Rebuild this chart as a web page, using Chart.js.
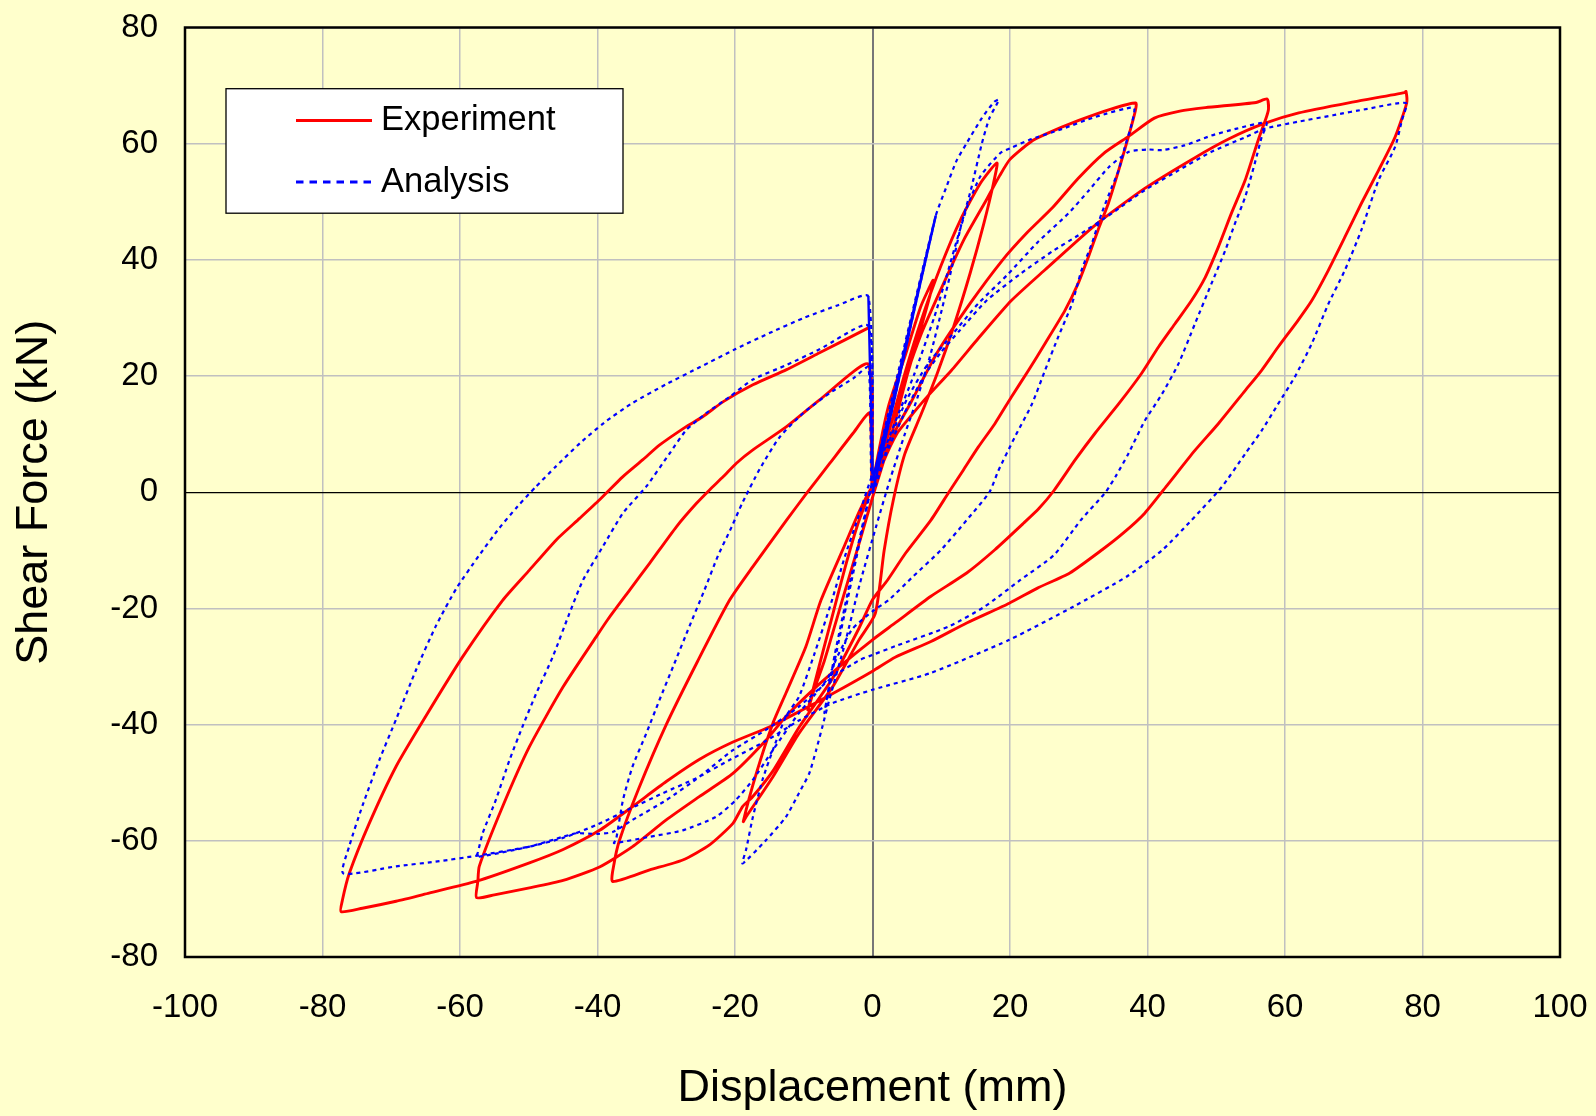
<!DOCTYPE html>
<html>
<head>
<meta charset="utf-8">
<title>Shear Force - Displacement</title>
<script src="https://cdn.jsdelivr.net/npm/chart.js@4.4.1/dist/chart.umd.min.js"></script>
<style>
  html, body { margin: 0; padding: 0; background: #ffffcc; }
  #wrap { position: relative; width: 1596px; height: 1116px; }
</style>
</head>
<body>
<div id="wrap"><canvas id="chart"></canvas></div>
<script>
// ============================================================================
//  Hysteresis loops: Experiment (red, solid) vs Analysis (blue, dotted).
//  Each run = load to +A, unload to -A, reload back to zero displacement.
//  Points are [displacement mm, shear force kN].
// ============================================================================

const seriesNames = ["Experiment", "Analysis"];
const axisTitles = { x: "Displacement (mm)", y: "Shear Force (kN)" };
const xTicks = [-100, -80, -60, -40, -20, 0, 20, 40, 60, 80, 100];
const yTicks = [-80, -60, -40, -20, 0, 20, 40, 60, 80];

// --- Experiment ------------------------------------------------------------
const expRun1 = [[0,0],[0.3,3.2],[2.3,14.7],[4.7,23.3],[7,31.9],[8.8,36.5],[8.7,35.4],[7.1,28.5],[5.1,20.4],
  [3.2,11.8],[1.8,6],[0.3,0.3],[-2,-9],[-4.5,-19],[-7,-29],[-8.5,-34],[-9.4,-37.5],[-8,-31],[-6,-22],[-4,-13],
  [-2,-5],[0,1]];
const expRun2 = [[0,0],[0.8,3.2],[2.7,11.8],[4.7,20.4],[7.1,29.6],[9.9,38.8],[12.8,46.9],[15.7,53.2],[18.1,56.7],
  [17.6,53.2],[16.2,46.3],[14.2,37.7],[11.8,28.5],[9.4,20.4],[7.1,13.5],[4.7,6.6],[3,-1.5],[1.7,-10],[0.4,-20.9],
  [-2,-25.5],[-5.8,-33.5],[-10.7,-41.5],[-14.5,-49],[-18.4,-55.9],[-18.8,-56.7],[-16.9,-48.4],[-14.5,-39.8],
  [-12.6,-34.6],[-9.7,-26.6],[-7.5,-18.6],[-4,-9],[-1.8,-3],[0,1]];
const expRun3 = [[0,0],[1,4],[2.3,10.1],[4.7,19.3],[7.1,27.3],[9.9,34.8],[13.3,43.5],[16.6,50.4],[18.5,54.5],
  [20,57.3],[23,60.3],[25.1,61.6],[30,64],[34.8,66],[38.3,67],[38.2,65.5],[37.2,61.1],[35.8,55.4],[34.3,49.7],
  [32.8,45.1],[31.4,40.5],[29.9,35.9],[28,31.3],[25.1,25.6],[22.7,21],[20.2,16.4],[17.8,11.8],[15.4,7.8],
  [13.2,3.8],[11.1,0],[8.5,-4.8],[4.8,-10.5],[2.2,-15.1],[0,-18.5],[-2,-23.5],[-5.8,-32],[-10.7,-40.5],
  [-14.5,-48],[-17.5,-52.5],[-18.9,-54.1],[-20.3,-57],[-23.7,-60.7],[-27.6,-63.3],[-32.4,-65],[-37.8,-67],
  [-37.6,-64],[-36.8,-59.9],[-34,-51],[-30,-40],[-25.4,-29],[-20.8,-18.6],[-17.4,-12.8],[-12.5,-4.8],
  [-9.6,-0.2],[-6.2,5],[-2.8,10.2],[-0.4,13.6]];
const expRun4 = [[0,0],[1.5,5.5],[3.5,11],[5.6,15.5],[9.4,24],[14.2,32.5],[18.8,39.8],[22.5,44.7],[26.2,49],
  [29.9,54],[33.6,58.3],[37.3,61.3],[41,64.4],[44.7,65.6],[48.4,66.2],[55.8,67.1],[57.4,67.7],[57.6,66],
  [57.3,64.6],[56.1,60.6],[54.2,53.7],[52.2,48],[50.3,42.2],[48.4,37],[46.4,33],[44,29],[41.6,25],[39.1,20.4],
  [35.8,15.2],[32.4,10.2],[29.5,5.6],[26.4,0.3],[24.2,-2.8],[22,-5.3],[17.8,-9.9],[13.7,-13.9],[8.5,-17.9],
  [3.3,-22.5],[0,-25.4],[-4.8,-30],[-8.2,-33.5],[-12.6,-38.6],[-15.5,-42.7],[-20.3,-48.4],[-25.2,-52.4],
  [-30,-56.4],[-34.9,-61],[-39.7,-64.5],[-45,-66.8],[-49.9,-68.1],[-55,-69.3],[-57.6,-69.8],[-57.4,-67],
  [-57.2,-64.4],[-53.8,-54.1],[-49.9,-43.8],[-45,-33.5],[-40.2,-24.9],[-38.5,-21.9],[-35.3,-16.8],[-32.4,-12.2],
  [-28.5,-5.9],[-25.6,-1.9],[-23.7,0.4],[-21.7,2.7],[-19.8,5],[-17.4,7.3],[-12.5,11.3],[-7.7,15.9],[-0.6,22]];
const expRun5 = [[0,0],[1.5,5],[3.5,10],[5.5,13],[8,16.5],[11.5,21],[15.4,26.5],[20.2,33],[25.1,38.3],
  [32.4,46],[39.6,52.3],[46.9,57.6],[51.8,60.8],[56.8,63.4],[62,65.3],[70,67.2],[77.4,68.8],[77.6,69],
  [77.7,67],[76,61.1],[73.6,55.4],[71.1,49.7],[68.7,43.9],[66.3,38.2],[63.9,33],[61.9,29.6],[59,25],[56.6,21],
  [54.2,17.5],[50.3,11.8],[46.9,7.2],[43,1.4],[39.6,-3.6],[36.5,-7],[33.4,-9.9],[28.7,-13.9],[24,-16.5],
  [19.9,-19.1],[13.7,-22.5],[8.5,-25.7],[3.3,-28.4],[0,-30.8],[-5.7,-34.6],[-10.1,-37.4],[-15,-40.4],
  [-20.3,-43],[-25.2,-46],[-30,-49.8],[-34.9,-54.1],[-39.7,-58.2],[-45,-61.5],[-49.9,-63.8],[-57.7,-67],
  [-64.5,-69],[-69.3,-70.4],[-74.2,-71.6],[-77.3,-72.2],[-77.1,-70.2],[-76.1,-65.6],[-73.2,-57],[-69.3,-47.2],
  [-65,-38.6],[-59.6,-28.3],[-53.8,-18.6],[-49.9,-13.4],[-46,-8.2],[-42.6,-4.5],[-39.7,-1.3],[-36.3,2.7],
  [-33.4,5.6],[-31,8.1],[-27.1,11.3],[-24.7,13],[-21.7,15.6],[-17.4,18.5],[-12.5,21.1],[-7.7,24],[-0.6,28.3]];

// --- Analysis --------------------------------------------------------------
const anaRun1 = [[0,0],[3,15],[6,31],[9.2,47.6],[6,31.5],[3,16],[0,2],[-3,-14],[-5.5,-28],[-7,-38],
  [-5.5,-29],[-3,-15],[0,2]];
const anaRun2 = [[0,2],[4.6,25],[9.2,47.6],[10.7,52.4],[12.2,57],[13.7,60.1],[15.9,64.4],[17.7,67.2],
  [18.4,67.6],[17,64.4],[15.9,60],[14.3,52],[12.9,46],[11.6,39],[10.2,32],[8.5,24],[6.6,16.5],[4.7,10],
  [2.5,2],[0.5,-6],[-1.9,-16],[-4,-26],[-6.3,-35.8],[-7.3,-40.4],[-8.2,-44.4],[-9.2,-48.4],[-10.7,-51.8],
  [-12.6,-55.9],[-15.5,-59.9],[-18.9,-63.9],[-18.4,-61.6],[-17.4,-55.9],[-16,-49.5],[-14.5,-44.4],
  [-12.6,-38.6],[-10.7,-35.2],[-8.5,-28],[-6,-19],[-4,-11],[-2,-4],[0,3]];
const anaRun3 = [[0,1],[0.8,4.3],[3.2,11.8],[6.1,20.4],[9,30.2],[10.9,37.7],[12.3,43.5],[13.8,49.2],
  [15.7,54.4],[18.6,58.4],[20.2,59.3],[22.7,60.6],[27.5,62.5],[32.4,64.6],[38,66.2],[37.7,63.4],[36.7,59.4],
  [35.8,55.4],[34.8,52.5],[33.3,47.9],[31.9,42.8],[30.4,38.2],[29,32.4],[27,26.7],[25.1,21],[23.2,15.2],
  [20.7,9.5],[18.3,3.7],[17,0],[13.7,-4.8],[10,-9.9],[5.9,-14.5],[2.4,-18.5],[0,-20.5],[-2.9,-23.5],[-5,-28],
  [-6.5,-32],[-8.5,-35],[-10.7,-38],[-14.5,-44.4],[-17.4,-49.5],[-19.9,-53],[-22.8,-55.9],[-27.6,-58.2],
  [-32.4,-59.3],[-37.6,-60.4],[-37.3,-59.8],[-36.3,-53],[-34.9,-47.2],[-32.9,-41.5],[-31,-35.8],[-29,-30],
  [-26.6,-23],[-24.5,-17],[-22.5,-11],[-20.5,-6],[-19,-2],[-16.4,4],[-13.5,9.5],[-10.1,13.6],[-6.2,17.1],
  [-2.8,19.6],[-0.6,21.5]];
const anaRun4 = [[0,0],[2.5,9],[5,16],[8,22],[11.5,27],[15.4,32.5],[19.6,37.4],[24,43],[28.5,48],[31.5,52],
  [34.4,56],[37.3,58.6],[40,59],[42.1,58.9],[45.4,59.7],[49.3,61.4],[53,62.6],[57.3,63.6],[56.6,61.1],
  [55.6,56.6],[54.2,50.8],[52.7,46.2],[51.3,41.6],[49.3,35.9],[46.9,29],[44.5,22.1],[42.1,16.9],[39.6,12.3],
  [37.2,6.6],[35.5,3],[33.9,0],[30.3,-4.8],[26.4,-10.8],[21.5,-15.1],[16.3,-19.7],[11.1,-23.1],[3.3,-26.5],
  [0,-28],[-1.9,-28.9],[-5.8,-31.8],[-10.7,-36.9],[-15.5,-40.9],[-20.3,-44.4],[-25.2,-49],[-30,-53],
  [-34.9,-56.4],[-37.8,-58.5],[-40,-58.8],[-43.1,-58.7],[-45,-59.3],[-49.9,-61],[-57.6,-62.8],[-57.4,-62],
  [-56.7,-58.7],[-54.8,-53],[-52.8,-46.1],[-50.9,-40.3],[-48.9,-34.6],[-46.5,-28.3],[-44.1,-20.9],
  [-42.1,-15.1],[-39.2,-9.3],[-36.3,-3.6],[-32.9,1],[-29.5,6.7],[-27.1,10.7],[-24.2,13.6],[-20.8,16.4],
  [-17.4,19.4],[-12.5,21.9],[-7.7,24.6],[-0.6,28.6]];
const anaRun5 = [[0,0],[1,3.5],[2.5,8],[5.1,14.7],[7.5,20],[9.9,24],[12.8,28],[16.6,33],[21.4,37.5],
  [26.2,41.5],[29.9,44.2],[34.8,48],[39.6,52],[44.5,55.4],[49.3,58.6],[54.2,61.1],[57.1,62.6],[62,63.8],
  [67,64.9],[72,66],[77.6,67],[77,64],[76,59.4],[73.6,53.7],[71.1,45.1],[68.7,38.2],[66.3,32.4],[63.9,25.6],
  [61.4,19.8],[59,15.2],[56.6,10.6],[54.2,6.6],[50.8,0.9],[46.4,-4.8],[42.2,-9.9],[37,-14.5],[29.2,-19.7],
  [19.9,-25.4],[8.5,-31.1],[0,-34],[-5.8,-36.3],[-10.7,-39.3],[-15.5,-42.8],[-20.8,-46.1],[-25.6,-49.2],
  [-30.5,-51.8],[-35.3,-54.5],[-40.2,-57.3],[-45,-59.5],[-49.9,-61],[-57.7,-62.6],[-63,-63.5],[-69.3,-64.4],
  [-77,-65.6],[-76.1,-60.9],[-74.2,-54],[-71.7,-46],[-69.3,-39.1],[-66.4,-30.6],[-63.5,-23],[-60.5,-16.5],
  [-57.3,-11],[-54.3,-6.2],[-51.6,-2.4],[-49,0.9],[-46,4.5],[-42.5,8.5],[-39,12],[-35,15.3],[-30,18.6],
  [-25,21.6],[-20,24.6],[-15,27.4],[-10,30],[-5,32.2],[-0.6,33.7],[0,3]];

const expRuns = [expRun1, expRun2, expRun3, expRun4, expRun5];
const anaRuns = [anaRun1, anaRun2, anaRun3, anaRun4, anaRun5];

const toPts = (runs) => runs.flat().map(([x, y]) => ({ x, y }));
// dense parts of the analysis trace look solid in the original plot
const anaSolid = [...toPts([anaRun1.slice(0, 7)]), { x: null, y: null }, ...toPts([anaRun5.slice(-2)])];

// ----------------------------------------------------------------------------
const FONT = "'Liberation Sans', Arial, Helvetica, sans-serif";
Chart.defaults.font.family = FONT;
Chart.defaults.color = "#000";

const GRID = "#c0c0c0";

// frame round the plot area + boxed legend in the upper left
const frameAndLegend = {
  id: "frameAndLegend",
  afterDraw(chart) {
    const { ctx, chartArea: a } = chart;
    ctx.save();
    ctx.strokeStyle = "#000";
    ctx.lineWidth = 2.5;
    ctx.strokeRect(a.left, a.top, a.right - a.left, a.bottom - a.top);

    ctx.fillStyle = "#fff";
    ctx.fillRect(226, 88.7, 397, 124.5);
    ctx.lineWidth = 1.3;
    ctx.strokeRect(226, 88.7, 397, 124.5);

    chart.data.datasets.filter((d) => d.label).forEach((d, i) => {
      const y = 120.4 + i * 61.6;
      ctx.beginPath();
      ctx.setLineDash(d.legendDash || []);
      ctx.strokeStyle = d.borderColor;
      ctx.lineWidth = 3;
      ctx.moveTo(296, y);
      ctx.lineTo(372, y);
      ctx.stroke();
      ctx.setLineDash([]);
      ctx.fillStyle = "#000";
      ctx.font = "34.5px " + FONT;
      ctx.textAlign = "left";
      ctx.textBaseline = "middle";
      ctx.fillText(d.label, 381, y);
    });
    ctx.restore();
  }
};

const zeroColor = (base, zero) => (c) => (c.tick && c.tick.value === 0 ? zero : base);

new Chart(document.getElementById("chart"), {
  type: "scatter",
  data: {
    datasets: [
      {
        label: seriesNames[0],
        data: toPts(expRuns),
        showLine: true,
        borderColor: "#ff0000",
        borderWidth: 2.9,
        pointRadius: 0,
        tension: 0.2,
        order: 2
      },
      {
        label: seriesNames[1],
        data: toPts(anaRuns),
        showLine: true,
        borderColor: "#0000ff",
        borderWidth: 2.2,
        borderDash: [4, 4],
        legendDash: [7.5, 6],
        pointRadius: 0,
        tension: 0.2,
        order: 1
      },
      {
        label: "",
        data: anaSolid,
        showLine: true,
        borderColor: "#0000ff",
        borderWidth: 2.4,
        pointRadius: 0,
        tension: 0,
        order: 0
      }
    ]
  },
  options: {
    responsive: true,
    maintainAspectRatio: false,
    animation: false,
    events: [],
    layout: { padding: { top: 27.5, right: 36, bottom: 0, left: 0 } },
    plugins: { legend: { display: false }, tooltip: { enabled: false } },
    scales: {
      x: {
        type: "linear",
        min: xTicks[0],
        max: xTicks[xTicks.length - 1],
        afterBuildTicks: (s) => { s.ticks = xTicks.map((v) => ({ value: v })); },
        afterFit: (s) => { s.height = 159; },
        // the gap below the axis comes from invisible tick marks, so the
        // label padding does not push the plot area in
        ticks: { font: { size: 33 }, padding: 0, maxRotation: 0, autoSkip: false },
        grid: {
          drawTicks: true,
          tickLength: 31,
          tickColor: "rgba(0,0,0,0)",
          color: zeroColor(GRID, "#777"),
          lineWidth: zeroColor(1.5, 2)
        },
        border: { display: false },
        title: { display: true, text: axisTitles.x, font: { size: 45 }, padding: { top: 0, bottom: 0 } }
      },
      y: {
        type: "linear",
        min: yTicks[0],
        max: yTicks[yTicks.length - 1],
        afterBuildTicks: (s) => { s.ticks = yTicks.map((v) => ({ value: v })); },
        afterFit: (s) => { s.width = 185; },
        ticks: { font: { size: 33 }, padding: 0, autoSkip: false },
        grid: {
          drawTicks: true,
          tickLength: 27,
          tickColor: "rgba(0,0,0,0)",
          color: zeroColor(GRID, "#000"),
          lineWidth: zeroColor(1.5, 1.2)
        },
        border: { display: false },
        title: { display: true, text: axisTitles.y, font: { size: 45 }, padding: { top: 7.6, bottom: 0 } }
      }
    }
  },
  plugins: [frameAndLegend]
});
</script>
</body>
</html>
